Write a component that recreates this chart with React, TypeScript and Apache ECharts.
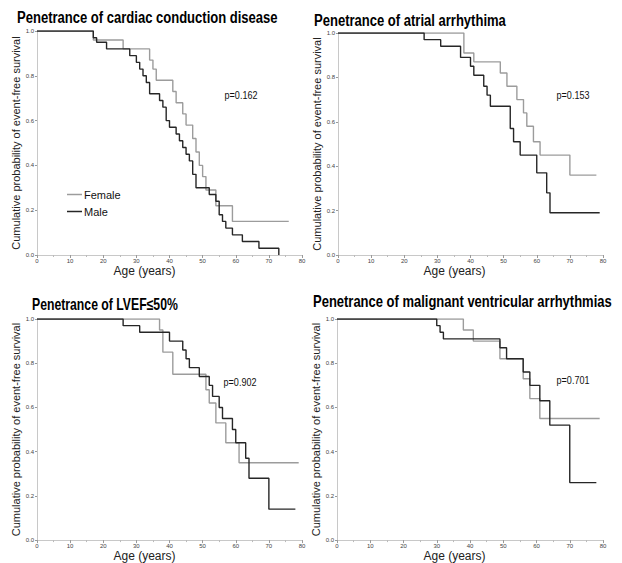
import React, { useEffect, useRef } from "react";
import * as echarts from "echarts";

const panelTitles = [
  "Penetrance of cardiac conduction disease",
  "Penetrance of atrial arrhythima",
  "Penetrance of LVEF\u226450%",
  "Penetrance of malignant ventricular arrhythmias",
];
const pValues = ["p=0.162", "p=0.153", "p=0.902", "p=0.701"];
const groupNames = ["Female", "Male"];
const xName = "Age (years)";
const yName = "Cumulative probability of event-free survival";

// Panel 1: cardiac conduction disease
const ccdFemaleAge = [0, 17, 26, 34, 35, 36, 41, 42, 44, 45, 47, 48, 49, 50, 51, 54, 59, 76];
const ccdFemaleSurv = [1, 0.96, 0.92, 0.87, 0.83, 0.78, 0.73, 0.68, 0.63, 0.58, 0.52, 0.46, 0.4, 0.35, 0.29, 0.22, 0.15, 0.15];
const ccdMaleAge = [0, 17, 18, 21, 28, 30, 31, 32, 33, 34, 37, 38, 39, 40, 42, 43, 44, 45, 46, 47, 48, 52, 54, 55, 56, 57, 59, 62, 67, 73];
const ccdMaleSurv = [1, 0.97, 0.95, 0.92, 0.89, 0.86, 0.83, 0.8, 0.77, 0.72, 0.69, 0.66, 0.6, 0.57, 0.54, 0.51, 0.48, 0.45, 0.42, 0.36, 0.3, 0.27, 0.24, 0.18, 0.15, 0.12, 0.09, 0.06, 0.03, 0.0];

// Panel 2: atrial arrhythmia
const aaFemaleAge = [0, 38, 41, 49, 51, 54, 56, 57, 59, 61, 70, 78];
const aaFemaleSurv = [1, 0.91, 0.87, 0.82, 0.76, 0.7, 0.64, 0.58, 0.51, 0.45, 0.36, 0.36];
const aaMaleAge = [0, 26, 31, 37, 40, 41, 44, 45, 46, 52, 53, 55, 60, 63, 64, 79];
const aaMaleSurv = [1, 0.97, 0.94, 0.89, 0.85, 0.81, 0.76, 0.72, 0.67, 0.57, 0.51, 0.45, 0.37, 0.28, 0.19, 0.19];

// Panel 3: LVEF <= 50%
const lvFemaleAge = [0, 37, 38, 41, 51, 52, 54, 57, 61, 79];
const lvFemaleSurv = [1, 0.95, 0.85, 0.75, 0.68, 0.62, 0.53, 0.44, 0.35, 0.35];
const lvMaleAge = [0, 26, 31, 40, 44, 45, 46, 49, 52, 53, 55, 56, 59, 60, 63, 64, 70, 78];
const lvMaleSurv = [1, 0.97, 0.94, 0.9, 0.86, 0.82, 0.78, 0.74, 0.7, 0.65, 0.6, 0.55, 0.5, 0.44, 0.37, 0.28, 0.14, 0.14];

// Panel 4: malignant ventricular arrhythmias
const mvaFemaleAge = [0, 38, 41, 49, 56, 58, 61, 79];
const mvaFemaleSurv = [1, 0.95, 0.9, 0.82, 0.73, 0.64, 0.55, 0.55];
const mvaMaleAge = [0, 30, 31, 32, 49, 51, 56, 58, 61, 64, 70, 78];
const mvaMaleSurv = [1, 0.97, 0.94, 0.91, 0.87, 0.82, 0.76, 0.7, 0.63, 0.52, 0.26, 0.26];

const panelData = [
  [[ccdFemaleAge, ccdFemaleSurv], [ccdMaleAge, ccdMaleSurv]],
  [[aaFemaleAge, aaFemaleSurv], [aaMaleAge, aaMaleSurv]],
  [[lvFemaleAge, lvFemaleSurv], [lvMaleAge, lvMaleSurv]],
  [[mvaFemaleAge, mvaFemaleSurv], [mvaMaleAge, mvaMaleSurv]],
];

const SANS = "'Liberation Sans', Arial, sans-serif";
const groupColors = ["#9c9c9c", "#262626"];

const grids = [
  { left: 37, top: 31, width: 265, height: 224 },
  { left: 338, top: 33, width: 265, height: 222 },
  { left: 37, top: 319, width: 265, height: 223 },
  { left: 337, top: 319, width: 266, height: 223 },
];
// title: left x, vertical centre y, rendered width
const titleBox = [
  { x: 17, y: 18, w: 261 },
  { x: 314, y: 21, w: 192 },
  { x: 32, y: 304, w: 146 },
  { x: 313, y: 302, w: 299 },
];
const pPos = [
  { x: 241, y: 95 },
  { x: 573, y: 95 },
  { x: 240, y: 382 },
  { x: 573, y: 380 },
];
const yNameGap = [15, 12, 15, 13];
const xNameShift = [50, 32, 50, 31];
const xNameGap = [7, 7, 8, 8];

function textWidth(text: string, font: string): number {
  const c = document.createElement("canvas").getContext("2d");
  if (!c) return 1;
  c.font = font;
  return c.measureText(text).width || 1;
}

export default function App() {
  const ref = useRef<HTMLDivElement>(null);
  useEffect(() => {
    if (!ref.current) return;
    const chart = echarts.init(ref.current, undefined, { renderer: "svg" });
    const series: any[] = [];
    panelData.forEach((groups, pi) => {
      groups.forEach(([ages, surv], gi) => {
        series.push({
          type: "line",
          name: groupNames[gi],
          xAxisIndex: pi,
          yAxisIndex: pi,
          step: "end",
          symbol: "none",
          z: gi === 0 ? 2 : 3,
          lineStyle: { color: groupColors[gi], width: 1.4 },
          itemStyle: { color: groupColors[gi] },
          data: ages.map((a, i) => [a, surv[i]]),
        });
      });
    });
    const titleFont = 'bold 16px "Liberation Sans"';
    const titleGraphics = panelTitles.map((t, i) => ({
      type: "text",
      x: titleBox[i].x,
      y: titleBox[i].y,
      scaleX: titleBox[i].w / textWidth(t, titleFont),
      style: {
        text: t,
        fontFamily: SANS,
        fontWeight: "bold",
        fontSize: 16,
        fill: "#000",
        align: "left",
        verticalAlign: "middle",
      },
    }));
    const pGraphics = pValues.map((p, i) => ({
      type: "text",
      x: pPos[i].x,
      y: pPos[i].y,
      scaleX: 0.82,
      style: {
        text: p,
        fontFamily: SANS,
        fontSize: 11,
        fill: "#111",
        align: "center",
        verticalAlign: "middle",
      },
    }));
    const option: any = {
      animation: false,
      backgroundColor: "#ffffff",
      legend: {
        data: groupNames,
        orient: "vertical",
        left: 67,
        top: 189,
        padding: 0,
        icon: "rect",
        itemWidth: 15,
        itemHeight: 1.5,
        itemGap: 6,
        textStyle: { fontFamily: SANS, fontSize: 11, color: "#111", padding: [0, 0, 0, -3] },
      },
      grid: grids.map((g) => ({ ...g })),
      xAxis: grids.map((_, i) => ({
        type: "value",
        gridIndex: i,
        min: 0,
        max: 80,
        interval: 10,
        name: xName,
        nameLocation: "middle",
        nameGap: xNameGap[i],
        nameTextStyle: { fontFamily: SANS, fontSize: 12, color: "#222", padding: [0, xNameShift[i], 0, 0] },
        axisLine: { show: true, lineStyle: { color: "#c8c8c8", width: 1 } },
        axisTick: { show: true, length: 3, lineStyle: { color: "#999" } },
        minorTick: { show: true, splitNumber: 2, length: 2, lineStyle: { color: "#bbb" } },
        axisLabel: { fontFamily: SANS, fontSize: 6, color: "#444", margin: 3 },
        splitLine: { show: false },
      })),
      yAxis: grids.map((_, i) => ({
        type: "value",
        gridIndex: i,
        min: 0,
        max: 1,
        interval: 0.2,
        name: yName,
        nameLocation: "middle",
        nameGap: yNameGap[i],
        nameTextStyle: { fontFamily: SANS, fontSize: 11, color: "#222" },
        axisLine: { show: true, lineStyle: { color: "#c8c8c8", width: 1 } },
        axisTick: { show: true, length: 2, lineStyle: { color: "#999" } },
        axisLabel: {
          fontFamily: SANS,
          fontSize: 6,
          color: "#444",
          margin: 3,
          formatter: (v: number) => v.toFixed(1),
        },
        splitLine: { show: false },
      })),
      graphic: [...titleGraphics, ...pGraphics],
      series,
    };
    chart.setOption(option);
    return () => chart.dispose();
  }, []);
  return (
    <div
      ref={ref}
      style={{ position: "absolute", left: 0, top: 0, width: 622, height: 563, background: "#fff" }}
    />
  );
}
